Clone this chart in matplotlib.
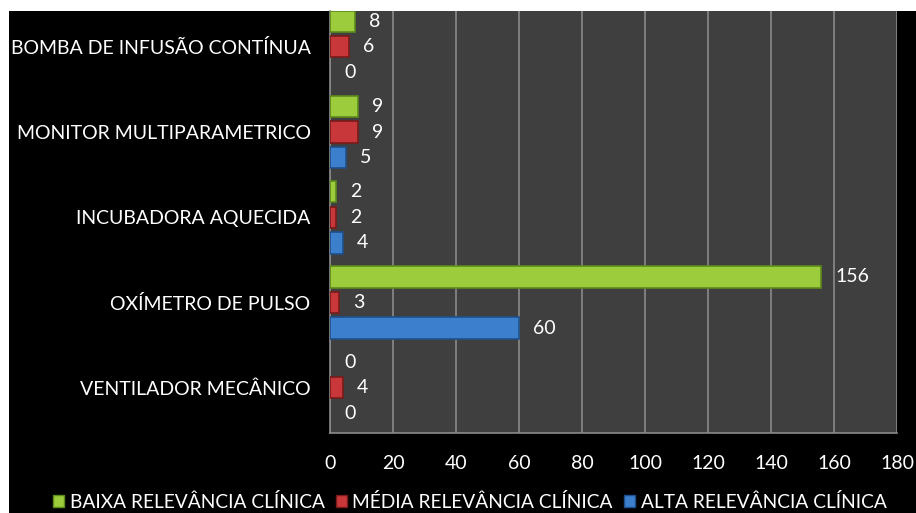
import numpy as np
import matplotlib.pyplot as plt
from matplotlib.patches import Rectangle, Patch

plt.rcParams['font.family'] = ['Lato', 'DejaVu Sans']

categorias = ['VENTILADOR MECÂNICO', 'OXÍMETRO DE PULSO', 'INCUBADORA AQUECIDA',
              'MONITOR MULTIPARAMETRICO', 'BOMBA DE INFUSÃO CONTÍNUA']
alta = [0, 60, 4, 5, 0]
media = [4, 3, 2, 9, 6]
baixa = [0, 156, 2, 9, 8]
series = ['BAIXA RELEVÂNCIA CLÍNICA', 'MÉDIA RELEVÂNCIA CLÍNICA', 'ALTA RELEVÂNCIA CLÍNICA']
xticks = [0, 20, 40, 60, 80, 100, 120, 140, 160, 180]

cores = {'baixa': '#9ccc3c', 'media': '#c8383a', 'alta': '#3c7fcc'}
bordas = {'baixa': '#5e8a1c', 'media': '#7a1a1a', 'alta': '#1f4f8a'}

fig = plt.figure(figsize=(9.16, 5.13), dpi=100, facecolor='white')
fig.patches.append(Rectangle((9/916, 0), 1, (513-11)/513, transform=fig.transFigure,
                             facecolor='black', edgecolor='none', zorder=-10))
ax = fig.add_axes([330/916, 80/513, 567/916, (433-11)/513])
ax.set_facecolor('#3f3f3f')

y = np.arange(len(categorias))
d = 0.30
h = 0.25
for vals, off, k in [(baixa, d, 'baixa'), (media, 0, 'media'), (alta, -d, 'alta')]:
    bars = ax.barh(y + off, vals, height=h, color=cores[k], edgecolor=bordas[k],
                   linewidth=[1.2 if v else 0 for v in vals], zorder=3)
    for b, v in zip(bars, vals):
        ax.annotate(str(v), (b.get_width(), b.get_y() + b.get_height()/2),
                    xytext=(10, 0), textcoords='offset points', va='center', ha='left',
                    color='white', fontsize=14)

ax.set_xlim(0, 180)
ax.set_ylim(-0.53, 4.42)
ax.set_xticks(xticks)
ax.set_yticks(y)
ax.set_yticklabels(categorias)
ax.tick_params(colors='white', labelsize=14, length=0)
ax.tick_params(axis='y', pad=14)
ax.tick_params(axis='x', pad=16)
ax.grid(axis='x', color='#8a8a8a', linewidth=1.2, zorder=0)
for s in ['top', 'right']:
    ax.spines[s].set_visible(False)
for s in ['left', 'bottom']:
    ax.spines[s].set_color('#8a8a8a')
    ax.spines[s].set_linewidth(1.2)

handles = [Patch(facecolor=cores[k], edgecolor=bordas[k]) for k in ['baixa', 'media', 'alta']]
fig.legend(handles, series, loc='center', bbox_to_anchor=(0.513, 11/513), ncol=3,
           frameon=False, labelcolor='white', fontsize=13.8, handlelength=0.55,
           handleheight=0.55, handletextpad=0.3, columnspacing=0.6)

fig.savefig('out.png', dpi=100, facecolor=fig.get_facecolor())
